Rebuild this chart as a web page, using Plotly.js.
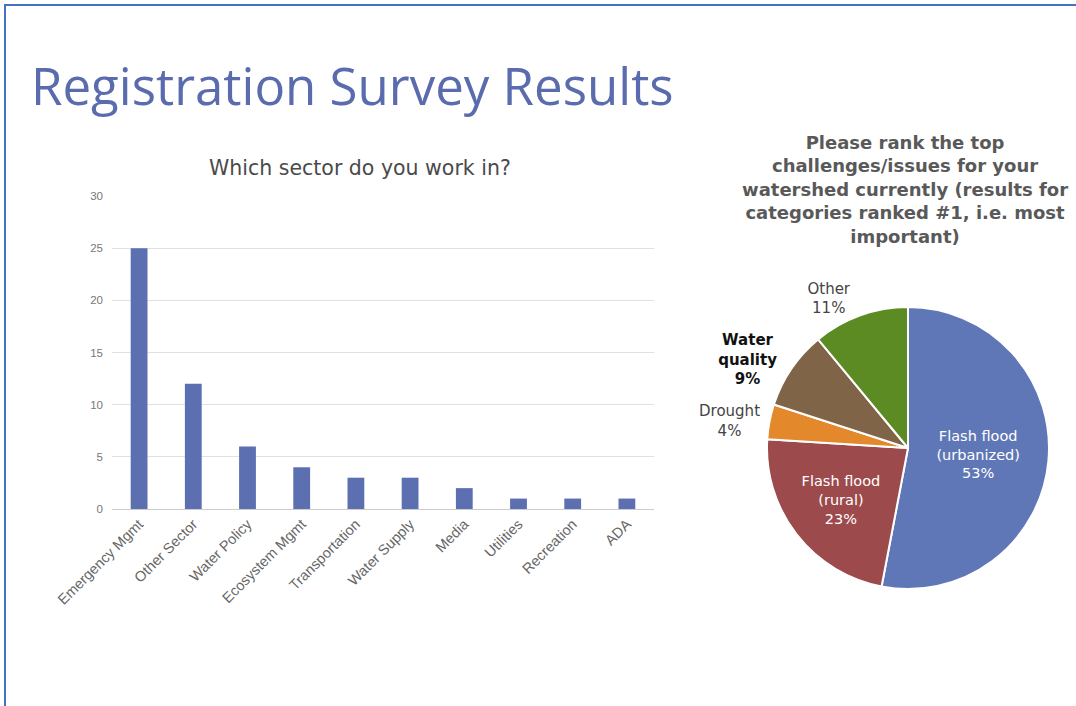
<!DOCTYPE html>
<html>
<head>
<meta charset="utf-8">
<script src="https://cdn.plot.ly/plotly-3.0.1.min.js"></script>
<style>html,body{margin:0;padding:0;background:#fff;}#chart{width:1076px;height:706px;}</style>
</head>
<body>
<div id="chart"></div>
<script>
// Bar chart data
const sectors = ["Emergency Mgmt","Other Sector","Water Policy","Ecosystem Mgmt","Transportation","Water Supply","Media","Utilities","Recreation","ADA"];
const sectorCounts = [25, 12, 6, 4, 3, 3, 2, 1, 1, 1];
const yTicks = [0, 5, 10, 15, 20, 25, 30];

// Pie chart data
const challenges = ["Flash flood (urbanized)", "Flash flood (rural)", "Drought", "Water quality", "Other"];
const challengeLabels = ["Flash flood<br>(urbanized)<br>53%", "Flash flood<br>(rural)<br>23%", "Drought<br>4%", "<b>Water<br>quality<br>9%</b>", "Other<br>11%"];
const challengeShares = [53, 23, 4, 9, 11];
const challengeColors = ["#5F77B7", "#9D4A4C", "#E3892B", "#7F6448", "#5C8A23"];

const W = 1076, H = 706;
const px = x => x / W;
const py = y => (H - y) / H;

const bar = {
  type: 'bar', x: sectors, y: sectorCounts,
  marker: {color: '#5B6FB1'},
  hoverinfo: 'x+y', xaxis: 'x', yaxis: 'y'
};

const pie = {
  type: 'pie', labels: challenges, values: challengeShares,
  text: challengeLabels, textinfo: 'text',
  sort: false, direction: 'clockwise', rotation: 0,
  marker: {colors: challengeColors, line: {color: '#ffffff', width: 2}},
  textposition: ['inside', 'inside', 'outside', 'outside', 'outside'],
  insidetextorientation: 'horizontal',
  insidetextfont: {family: 'DejaVu Sans, sans-serif', size: 14.5, color: '#ffffff'},
  outsidetextfont: {family: 'DejaVu Sans, sans-serif', size: 15, color: ['#444', '#444', '#444', '#111', '#444']},
  domain: {x: [px(767), px(1049)], y: [py(589), py(307)]},
  showlegend: false, automargin: false
};

const layout = {
  width: W, height: H,
  margin: {l: 0, r: 0, t: 0, b: 0},
  paper_bgcolor: '#ffffff', plot_bgcolor: '#ffffff',
  showlegend: false,
  title: {
    text: 'Registration Survey Results',
    x: px(31), xanchor: 'left', y: py(87), yanchor: 'middle',
    font: {family: 'Open Sans, Noto Sans, sans-serif', size: 51, color: '#5A6CAD'}
  },
  bargap: 0.69,
  xaxis: {
    domain: [px(112), px(654)],
    tickangle: -45,
    tickfont: {family: 'Liberation Sans, Arial, sans-serif', size: 14.5, color: '#666'},
    showgrid: false, showline: true, linecolor: '#cccccc', linewidth: 1,
    ticks: '', fixedrange: true
  },
  yaxis: {
    domain: [py(509), py(196)],
    range: [0, 30],
    tickvals: yTicks,
    tickfont: {family: 'Liberation Sans, Arial, sans-serif', size: 11.5, color: '#777'},
    showgrid: true, gridcolor: '#e0e0e0', gridwidth: 1,
    zeroline: false, showline: false, ticks: '', ticklabelstandoff: 8,
    fixedrange: true
  },
  annotations: [
    {
      text: 'Which sector do you work in?', xref: 'paper', yref: 'paper',
      x: px(360), y: py(168), xanchor: 'center', yanchor: 'middle', showarrow: false,
      font: {family: 'DejaVu Sans, sans-serif', size: 20.5, color: '#4a4a4a'}
    },
    {
      text: '<b>Please rank the top<br>challenges/issues for your<br>watershed currently (results for<br>categories ranked #1, i.e. most<br>important)</b>',
      xref: 'paper', yref: 'paper',
      x: px(905), y: py(189), xanchor: 'center', yanchor: 'middle', showarrow: false,
      font: {family: 'DejaVu Sans, sans-serif', size: 18, color: '#595959'},
      align: 'center'
    }
  ],
  shapes: [
    {type: 'line', xref: 'paper', yref: 'paper', x0: px(4), x1: 1, y0: py(5), y1: py(5), line: {color: '#4472C4', width: 2}},
    {type: 'line', xref: 'paper', yref: 'paper', x0: px(5), x1: px(5), y0: py(5), y1: 0, line: {color: '#4472C4', width: 2}}
  ]
};

Plotly.newPlot('chart', [bar, pie], layout, {displayModeBar: false, staticPlot: true});
</script>
</body>
</html>
